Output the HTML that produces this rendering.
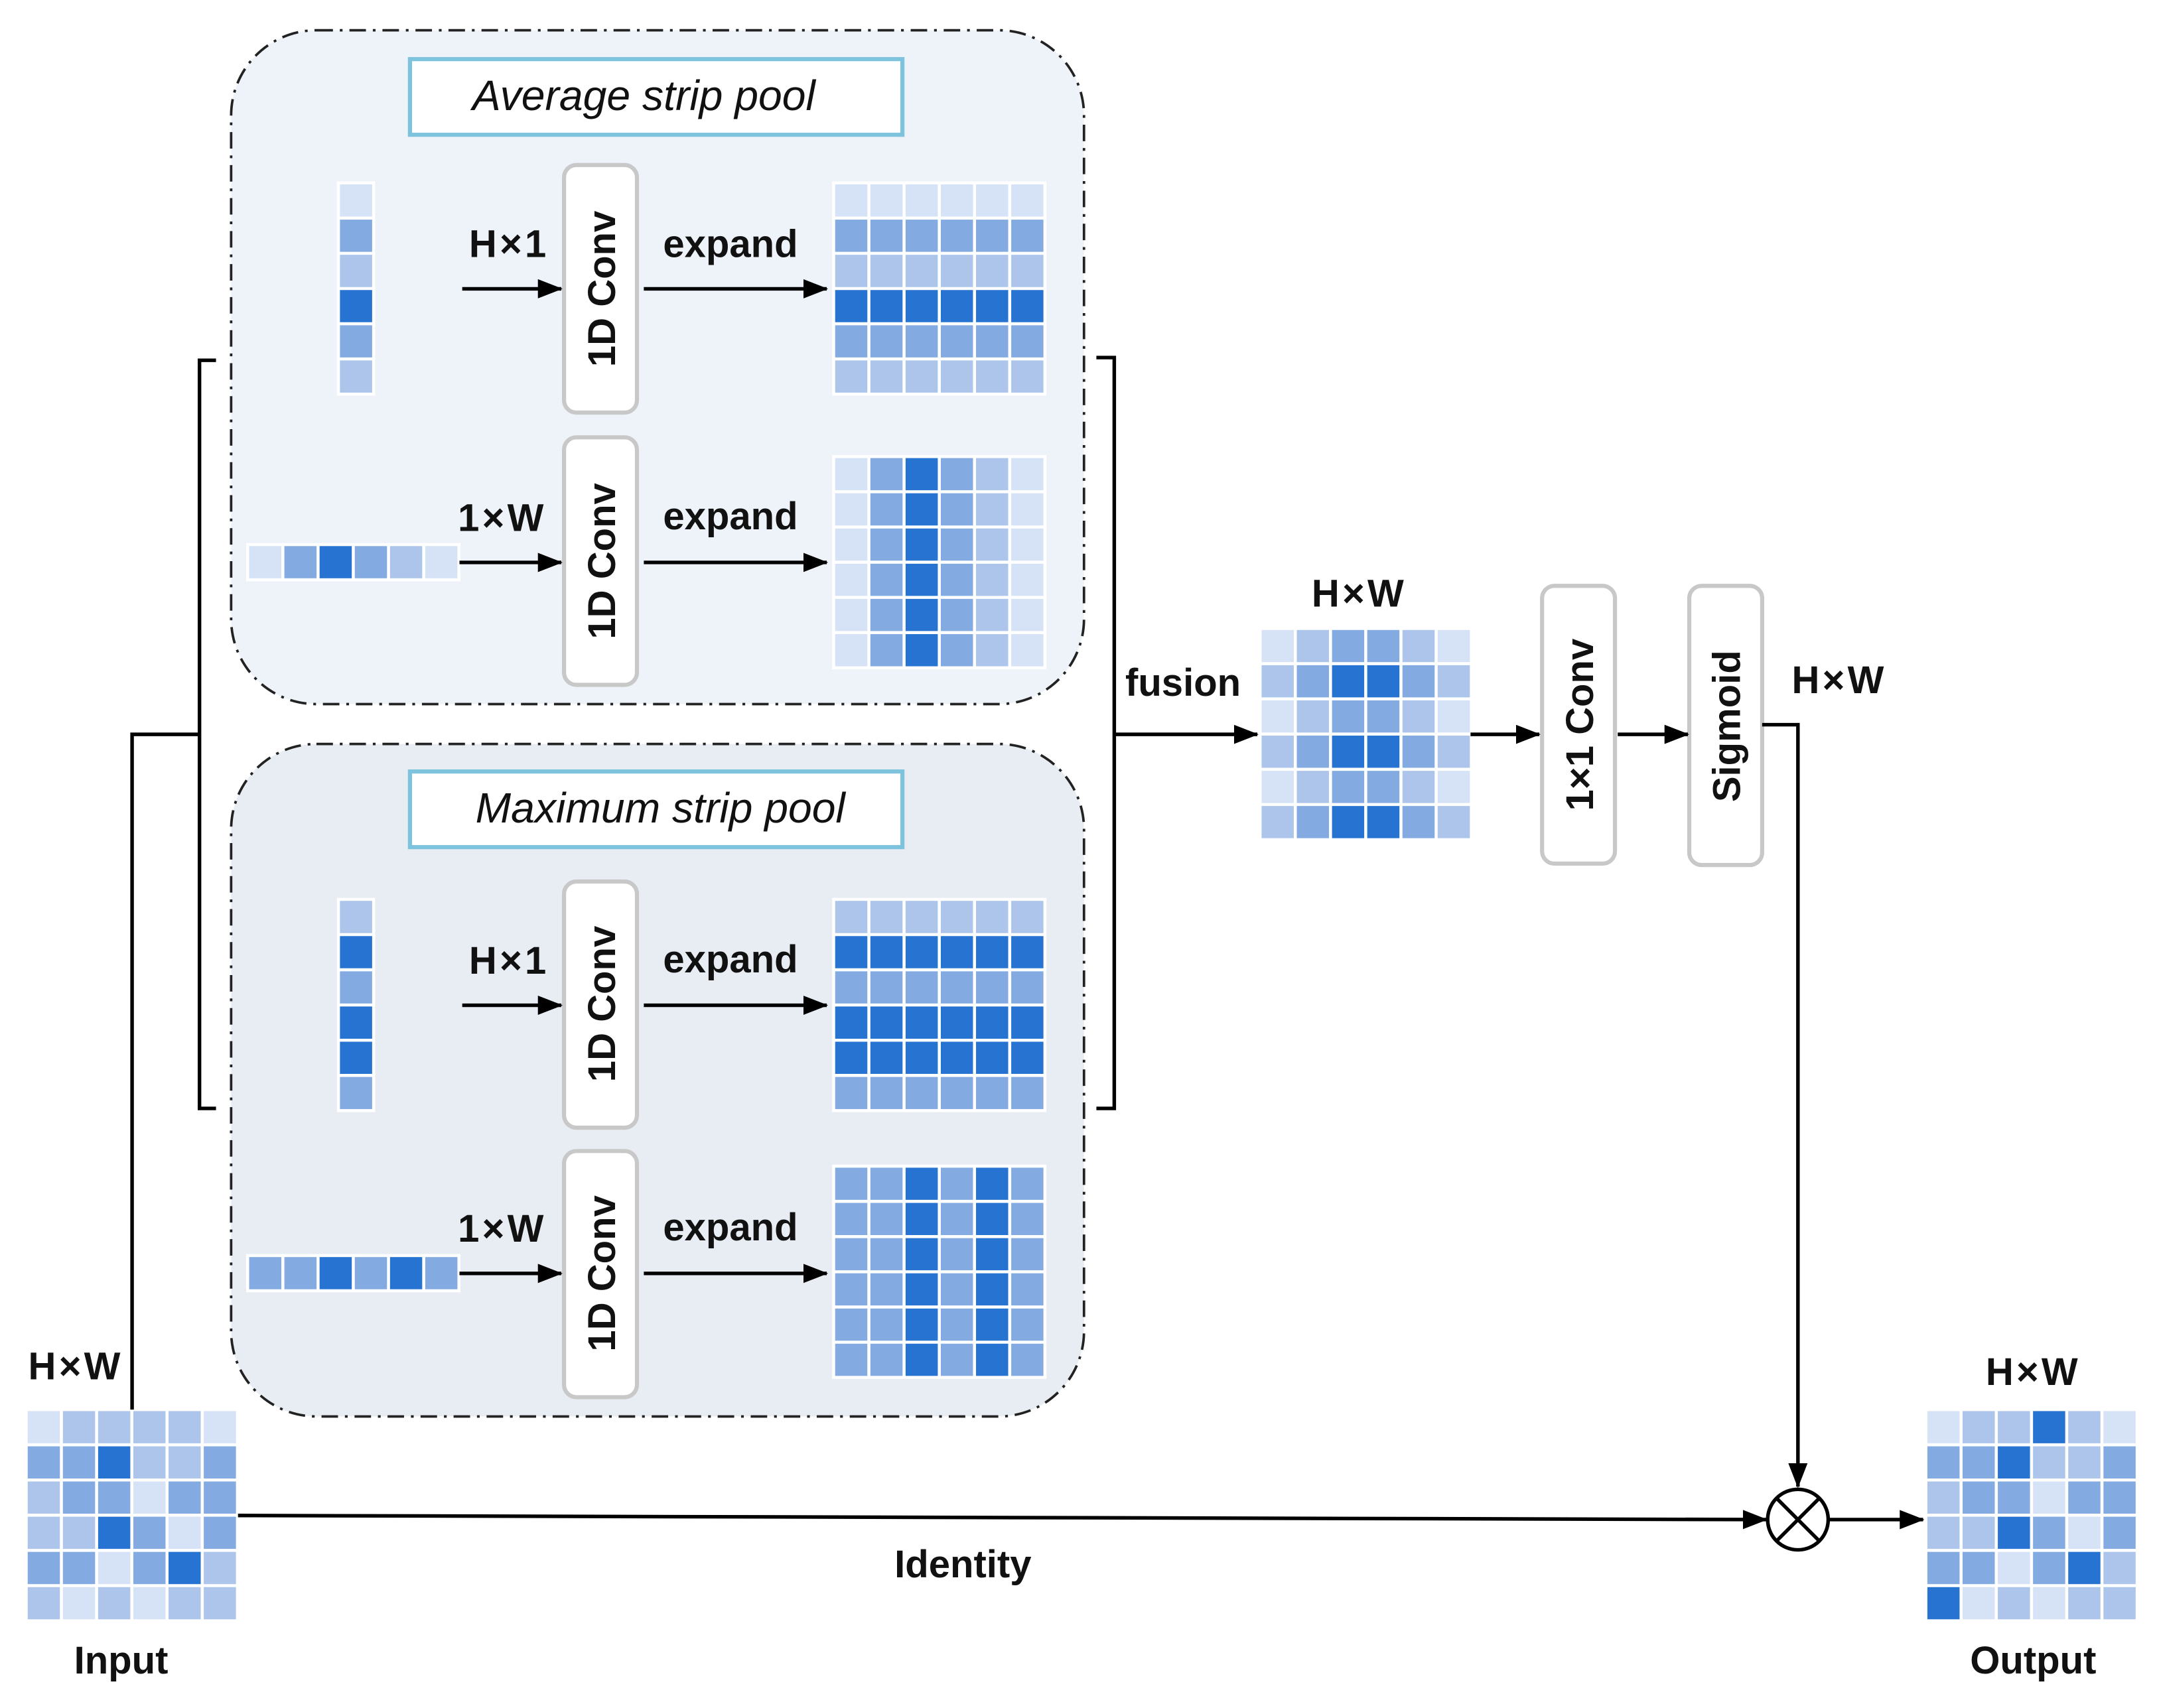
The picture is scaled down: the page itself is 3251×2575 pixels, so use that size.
<!DOCTYPE html>
<html><head><meta charset="utf-8"><style>
html,body{margin:0;padding:0;background:#fff}
svg{display:block}
.L{fill:#d6e2f5}.M{fill:#adc5ea}.D{fill:#83abe2}.X{fill:#2673d1}
text{font-family:"Liberation Sans","DejaVu Sans",sans-serif;font-weight:bold;fill:#111}
.it{font-style:italic;font-weight:normal}
.sp{letter-spacing:2px}
</style></head><body>
<svg width="3251" height="2575" viewBox="0 0 1568 1242" xmlns="http://www.w3.org/2000/svg">
<defs>
<marker id="ah" markerWidth="18" markerHeight="14" refX="17" refY="7" orient="auto" markerUnits="userSpaceOnUse" viewBox="0 0 18 14"><path d="M0,0 L18,7 L0,14 z" fill="#000"/></marker>
<g id="gl" stroke="#fff" stroke-width="2.2" fill="none">
<rect x="0" y="0" width="153.6" height="153.6"/>
<path d="M25.6 0V153.6M51.2 0V153.6M76.8 0V153.6M102.4 0V153.6M128 0V153.6M0 25.6H153.6M0 51.2H153.6M0 76.8H153.6M0 102.4H153.6M0 128H153.6"/>
</g>
<g id="vl" stroke="#fff" stroke-width="2.2" fill="none"><rect x="0" y="0" width="25.6" height="153.6"/><path d="M0 25.6H25.6M0 51.2H25.6M0 76.8H25.6M0 102.4H25.6M0 128H25.6"/></g>
<g id="hl" stroke="#fff" stroke-width="2.2" fill="none"><rect x="0" y="0" width="153.6" height="25.6"/><path d="M25.6 0V25.6M51.2 0V25.6M76.8 0V25.6M102.4 0V25.6M128 0V25.6"/></g>
</defs>

<rect x="168" y="22" width="620" height="490" rx="62" fill="#eef3fa" stroke="#222" stroke-width="1.8" stroke-dasharray="12 5 2 5"/>
<rect x="168" y="541" width="620" height="489" rx="62" fill="#e8edf3" stroke="#222" stroke-width="1.8" stroke-dasharray="12 5 2 5"/>
<rect x="298" y="43" width="358" height="55" fill="#fff" stroke="#7ec3dd" stroke-width="3"/>
<text x="468" y="80" font-size="31" text-anchor="middle" class="it">Average strip pool</text>
<rect x="298" y="561" width="358" height="55" fill="#fff" stroke="#7ec3dd" stroke-width="3"/>
<text x="480" y="598" font-size="31" text-anchor="middle" class="it">Maximum strip pool</text>

<g fill="#fff" stroke="#c8c8c8" stroke-width="3">
<rect x="410" y="120" width="53" height="180" rx="9"/>
<rect x="410" y="318" width="53" height="180" rx="9"/>
<rect x="410" y="641" width="53" height="179" rx="9"/>
<rect x="410" y="837" width="53" height="179" rx="9"/>
<rect x="1121" y="426" width="53" height="202" rx="9"/>
<rect x="1228" y="426" width="53" height="203" rx="9"/>
</g>
<g font-size="28" text-anchor="middle">
<text transform="translate(447,210) rotate(-90)">1D Conv</text>
<text transform="translate(447,408) rotate(-90)">1D Conv</text>
<text transform="translate(447,730) rotate(-90)">1D Conv</text>
<text transform="translate(447,926) rotate(-90)">1D Conv</text>
<text transform="translate(1158,527) rotate(-90)">1×1 Conv</text>
<text transform="translate(1265,528) rotate(-90)">Sigmoid</text>
</g>

<g transform="translate(246,133)"><rect class="L" y="0" width="25.6" height="25.6"/><rect class="D" y="25.6" width="25.6" height="25.6"/><rect class="M" y="51.2" width="25.6" height="25.6"/><rect class="X" y="76.8" width="25.6" height="25.6"/><rect class="D" y="102.4" width="25.6" height="25.6"/><rect class="M" y="128" width="25.6" height="25.6"/><use href="#vl"/></g>
<g transform="translate(606,133)"><rect class="L" y="0" width="153.6" height="25.6"/><rect class="D" y="25.6" width="153.6" height="25.6"/><rect class="M" y="51.2" width="153.6" height="25.6"/><rect class="X" y="76.8" width="153.6" height="25.6"/><rect class="D" y="102.4" width="153.6" height="25.6"/><rect class="M" y="128" width="153.6" height="25.6"/><use href="#gl"/></g>
<g transform="translate(180,396)"><rect class="L" x="0" width="25.6" height="25.6"/><rect class="D" x="25.6" width="25.6" height="25.6"/><rect class="X" x="51.2" width="25.6" height="25.6"/><rect class="D" x="76.8" width="25.6" height="25.6"/><rect class="M" x="102.4" width="25.6" height="25.6"/><rect class="L" x="128" width="25.6" height="25.6"/><use href="#hl"/></g>
<g transform="translate(606,332)"><rect class="L" x="0" width="25.6" height="153.6"/><rect class="D" x="25.6" width="25.6" height="153.6"/><rect class="X" x="51.2" width="25.6" height="153.6"/><rect class="D" x="76.8" width="25.6" height="153.6"/><rect class="M" x="102.4" width="25.6" height="153.6"/><rect class="L" x="128" width="25.6" height="153.6"/><use href="#gl"/></g>
<g transform="translate(246,654)"><rect class="M" y="0" width="25.6" height="25.6"/><rect class="X" y="25.6" width="25.6" height="25.6"/><rect class="D" y="51.2" width="25.6" height="25.6"/><rect class="X" y="76.8" width="25.6" height="25.6"/><rect class="X" y="102.4" width="25.6" height="25.6"/><rect class="D" y="128" width="25.6" height="25.6"/><use href="#vl"/></g>
<g transform="translate(606,654)"><rect class="M" y="0" width="153.6" height="25.6"/><rect class="X" y="25.6" width="153.6" height="25.6"/><rect class="D" y="51.2" width="153.6" height="25.6"/><rect class="X" y="76.8" width="153.6" height="25.6"/><rect class="X" y="102.4" width="153.6" height="25.6"/><rect class="D" y="128" width="153.6" height="25.6"/><use href="#gl"/></g>
<g transform="translate(180,913)"><rect class="D" x="0" width="25.6" height="25.6"/><rect class="D" x="25.6" width="25.6" height="25.6"/><rect class="X" x="51.2" width="25.6" height="25.6"/><rect class="D" x="76.8" width="25.6" height="25.6"/><rect class="X" x="102.4" width="25.6" height="25.6"/><rect class="D" x="128" width="25.6" height="25.6"/><use href="#hl"/></g>
<g transform="translate(606,848)"><rect class="D" x="0" width="25.6" height="153.6"/><rect class="D" x="25.6" width="25.6" height="153.6"/><rect class="X" x="51.2" width="25.6" height="153.6"/><rect class="D" x="76.8" width="25.6" height="153.6"/><rect class="X" x="102.4" width="25.6" height="153.6"/><rect class="D" x="128" width="25.6" height="153.6"/><use href="#gl"/></g>

<g transform="translate(916,457)">
<g id="fa"><rect class="L" x="0" width="25.6" height="25.6"/><rect class="M" x="25.6" width="25.6" height="25.6"/><rect class="D" x="51.2" width="25.6" height="25.6"/><rect class="D" x="76.8" width="25.6" height="25.6"/><rect class="M" x="102.4" width="25.6" height="25.6"/><rect class="L" x="128" width="25.6" height="25.6"/></g>
<g id="fb" transform="translate(0,25.6)"><rect class="M" x="0" width="25.6" height="25.6"/><rect class="D" x="25.6" width="25.6" height="25.6"/><rect class="X" x="51.2" width="25.6" height="25.6"/><rect class="X" x="76.8" width="25.6" height="25.6"/><rect class="D" x="102.4" width="25.6" height="25.6"/><rect class="M" x="128" width="25.6" height="25.6"/></g>
<use href="#fa" y="51.2"/><use href="#fb" y="51.2"/><use href="#fa" y="102.4"/><use href="#fb" y="102.4"/>
<use href="#gl"/></g>

<g transform="translate(19,1025)">
<g id="in">
<rect class="L" x="0" y="0" width="25.6" height="25.6"/><rect class="M" x="25.6" y="0" width="25.6" height="25.6"/><rect class="M" x="51.2" y="0" width="25.6" height="25.6"/><rect class="M" x="76.8" y="0" width="25.6" height="25.6"/><rect class="M" x="102.4" y="0" width="25.6" height="25.6"/><rect class="L" x="128" y="0" width="25.6" height="25.6"/>
<rect class="D" x="0" y="25.6" width="25.6" height="25.6"/><rect class="D" x="25.6" y="25.6" width="25.6" height="25.6"/><rect class="X" x="51.2" y="25.6" width="25.6" height="25.6"/><rect class="M" x="76.8" y="25.6" width="25.6" height="25.6"/><rect class="M" x="102.4" y="25.6" width="25.6" height="25.6"/><rect class="D" x="128" y="25.6" width="25.6" height="25.6"/>
<rect class="M" x="0" y="51.2" width="25.6" height="25.6"/><rect class="D" x="25.6" y="51.2" width="25.6" height="25.6"/><rect class="D" x="51.2" y="51.2" width="25.6" height="25.6"/><rect class="L" x="76.8" y="51.2" width="25.6" height="25.6"/><rect class="D" x="102.4" y="51.2" width="25.6" height="25.6"/><rect class="D" x="128" y="51.2" width="25.6" height="25.6"/>
<rect class="M" x="0" y="76.8" width="25.6" height="25.6"/><rect class="M" x="25.6" y="76.8" width="25.6" height="25.6"/><rect class="X" x="51.2" y="76.8" width="25.6" height="25.6"/><rect class="D" x="76.8" y="76.8" width="25.6" height="25.6"/><rect class="L" x="102.4" y="76.8" width="25.6" height="25.6"/><rect class="D" x="128" y="76.8" width="25.6" height="25.6"/>
<rect class="D" x="0" y="102.4" width="25.6" height="25.6"/><rect class="D" x="25.6" y="102.4" width="25.6" height="25.6"/><rect class="L" x="51.2" y="102.4" width="25.6" height="25.6"/><rect class="D" x="76.8" y="102.4" width="25.6" height="25.6"/><rect class="X" x="102.4" y="102.4" width="25.6" height="25.6"/><rect class="M" x="128" y="102.4" width="25.6" height="25.6"/>
<rect class="L" x="25.6" y="128" width="25.6" height="25.6"/><rect class="M" x="51.2" y="128" width="25.6" height="25.6"/><rect class="L" x="76.8" y="128" width="25.6" height="25.6"/><rect class="M" x="102.4" y="128" width="25.6" height="25.6"/><rect class="M" x="128" y="128" width="25.6" height="25.6"/>
</g>
<rect class="M" x="0" y="128" width="25.6" height="25.6"/>
<use href="#gl"/></g>
<g transform="translate(1400,1025)">
<use href="#in"/>
<rect class="X" x="76.8" y="0" width="25.6" height="25.6"/>
<rect class="X" x="0" y="128" width="25.6" height="25.6"/>
<use href="#gl"/></g>

<g stroke="#000" stroke-width="2.6" fill="none">
<path d="M157 262H145V806H157"/>
<path d="M797 260H810V806H797"/>
<path d="M96 1025V534H145"/>
<path d="M1281 527H1307V1081" marker-end="url(#ah)"/>
<path d="M173 1102L1284 1105" marker-end="url(#ah)"/>
<path d="M1330 1105H1398" marker-end="url(#ah)"/>
<path d="M810 534H914" marker-end="url(#ah)"/>
<path d="M1069 534H1119" marker-end="url(#ah)"/>
<path d="M1176 534H1227" marker-end="url(#ah)"/>
<path d="M336 210H408" marker-end="url(#ah)"/>
<path d="M468 210H601" marker-end="url(#ah)"/>
<path d="M334 409H408" marker-end="url(#ah)"/>
<path d="M468 409H601" marker-end="url(#ah)"/>
<path d="M336 731H408" marker-end="url(#ah)"/>
<path d="M468 731H601" marker-end="url(#ah)"/>
<path d="M334 926H408" marker-end="url(#ah)"/>
<path d="M468 926H601" marker-end="url(#ah)"/>
<circle cx="1307" cy="1105" r="22" fill="#fff"/>
<path d="M1291.5 1089.5L1322.5 1120.5M1322.5 1089.5L1291.5 1120.5"/>
</g>

<g font-size="28">
<text x="370" y="187" text-anchor="middle" class="sp">H×1</text>
<text x="531" y="187" text-anchor="middle">expand</text>
<text x="365" y="386" text-anchor="middle" class="sp">1×W</text>
<text x="531" y="385" text-anchor="middle">expand</text>
<text x="370" y="708" text-anchor="middle" class="sp">H×1</text>
<text x="531" y="707" text-anchor="middle">expand</text>
<text x="365" y="903" text-anchor="middle" class="sp">1×W</text>
<text x="531" y="902" text-anchor="middle">expand</text>
<text x="860" y="506" text-anchor="middle">fusion</text>
<text x="988" y="441" text-anchor="middle" class="sp">H×W</text>
<text x="1337" y="504" text-anchor="middle" class="sp">H×W</text>
<text x="55" y="1003" text-anchor="middle" class="sp">H×W</text>
<text x="1478" y="1007" text-anchor="middle" class="sp">H×W</text>
<text x="700" y="1147" text-anchor="middle">Identity</text>
<text x="88" y="1217" text-anchor="middle">Input</text>
<text x="1478" y="1217" text-anchor="middle">Output</text>
</g>
</svg>
</body></html>
